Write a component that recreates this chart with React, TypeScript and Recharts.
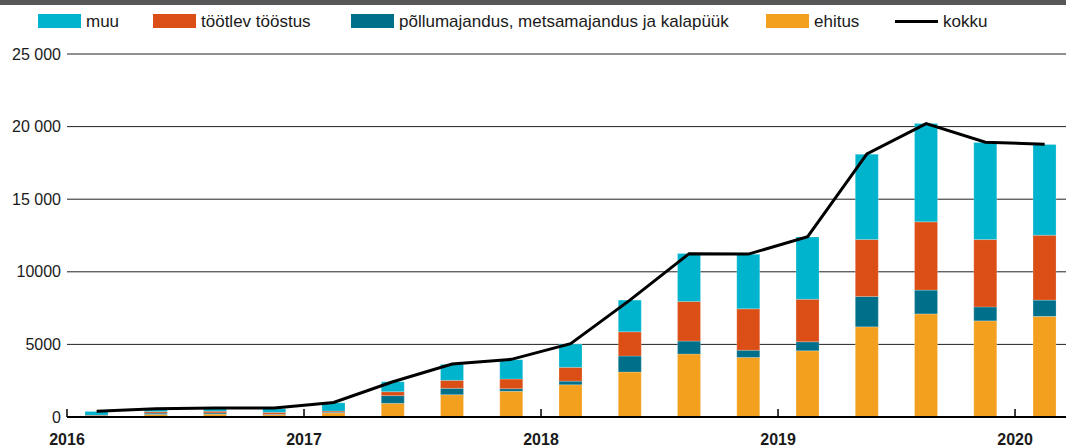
import React from 'react';
import { ComposedChart, Bar, Line, XAxis, YAxis, CartesianGrid, Legend } from 'recharts';

const quarters = [
  '2016 Q1', '2016 Q2', '2016 Q3', '2016 Q4',
  '2017 Q1', '2017 Q2', '2017 Q3', '2017 Q4',
  '2018 Q1', '2018 Q2', '2018 Q3', '2018 Q4',
  '2019 Q1', '2019 Q2', '2019 Q3', '2019 Q4',
  '2020 Q1',
];
const ehitus = [40, 180, 200, 150, 280, 940, 1535, 1770, 2220, 3100, 4335, 4100, 4560, 6210, 7100, 6620, 6930];
const pollumajandus = [20, 90, 80, 40, 50, 530, 440, 180, 250, 1100, 895, 500, 620, 2090, 1640, 960, 1120];
const tootlev = [60, 100, 120, 130, 80, 275, 550, 665, 950, 1670, 2730, 2850, 2930, 3930, 4700, 4640, 4470];
const muu = [260, 150, 160, 250, 570, 685, 1100, 1330, 1600, 2180, 3300, 3760, 4290, 5870, 6770, 6680, 6240];
const kokku = [400, 560, 620, 620, 1000, 2430, 3650, 3970, 5050, 8050, 11250, 11220, 12420, 18120, 20210, 18920, 18790];

const years = [2016, 2017, 2018, 2019, 2020];
const yearLabels = ['2016', '2017', '2018', '2019', '2020'];
const yTicks = [0, 5000, 10000, 15000, 20000, 25000];
const yTickLabels = ['0', '5000', '10000', '15 000', '20 000', '25 000'];

const seriesNames = {
  muu: 'muu',
  tootlev: 'töötlev tööstus',
  pollumajandus: 'põllumajandus, metsamajandus ja kalapüük',
  ehitus: 'ehitus',
  kokku: 'kokku',
};

const COLORS = {
  muu: '#00B4CD',
  tootlev: '#DB4F16',
  pollumajandus: '#006F8A',
  ehitus: '#F4A01F',
  kokku: '#000000',
};

const FONT = '"Liberation Sans", Arial, Helvetica, sans-serif';

function quarterToTime(q: string): number {
  const [y, qq] = q.split(' ');
  const n = parseInt(qq.replace('Q', ''), 10);
  return parseInt(y, 10) + (n - 0.5) / 4;
}

const data = quarters.map((q, i) => ({
  t: quarterToTime(q),
  label: q,
  ehitus: ehitus[i],
  pollumajandus: pollumajandus[i],
  tootlev: tootlev[i],
  muu: muu[i],
  kokku: kokku[i],
}));

const legendItems = [
  { key: 'muu', type: 'rect', x: 38 },
  { key: 'tootlev', type: 'rect', x: 153 },
  { key: 'pollumajandus', type: 'rect', x: 351 },
  { key: 'ehitus', type: 'rect', x: 766 },
  { key: 'kokku', type: 'line', x: 895 },
];

const LegendContent = () => (
  <div style={{ position: 'relative', width: 1066, height: 40, fontFamily: FONT }}>
    {legendItems.map((it) => (
      <div key={it.key} style={{ position: 'absolute', left: it.x, top: 14, height: 14, display: 'flex', alignItems: 'center', whiteSpace: 'nowrap' }}>
        {it.type === 'rect' ? (
          <div style={{ width: 43, height: 14, background: (COLORS as any)[it.key] }} />
        ) : (
          <div style={{ width: 43, height: 3, background: '#000' }} />
        )}
        <span style={{ marginLeft: 5, fontSize: 17, color: '#1a1a1a', lineHeight: '14px', position: 'relative', top: 1 }}>
          {(seriesNames as any)[it.key]}
        </span>
      </div>
    ))}
  </div>
);

const YearTick = (props: any) => {
  const { x, y, payload } = props;
  const idx = years.indexOf(payload.value);
  return (
    <g>
      <line x1={x} x2={x} y1={y - 8} y2={y} stroke="#000" strokeWidth={1.5} />
      <text x={x} y={y + 28} textAnchor="middle" fontFamily={FONT} fontSize={16} fontWeight="bold" fill="#1a1a1a">
        {idx >= 0 ? yearLabels[idx] : ''}
      </text>
    </g>
  );
};

export default function App() {
  return (
    <div style={{ position: 'absolute', left: 0, top: 0, width: 1066, height: 447, background: '#fff', overflow: 'hidden' }}>
      <div style={{ position: 'absolute', left: 0, top: 0, width: 1066, height: 5, background: '#575757' }} />
      <ComposedChart
        width={1066}
        height={447}
        data={data}
        margin={{ top: 54, right: 0, bottom: 0, left: 0 }}
      >
        <CartesianGrid vertical={false} stroke="#222222" strokeWidth={1} />
        <XAxis
          dataKey="t"
          type="number"
          domain={[2016, 2020.215]}
          ticks={years}
          interval={0}
          height={30}
          tickSize={0}
          tickMargin={0}
          tickLine={false}
          axisLine={{ stroke: '#000', strokeWidth: 2 }}
          tick={<YearTick />}
          allowDataOverflow
        />
        <YAxis
          type="number"
          domain={[0, 25000]}
          ticks={yTicks}
          interval={0}
          width={67}
          tickSize={0}
          tickMargin={6}
          tickLine={false}
          axisLine={false}
          tickFormatter={(v: number) => yTickLabels[yTicks.indexOf(v)] ?? String(v)}
          tick={{ fontFamily: FONT, fontSize: 16, fill: '#1a1a1a' }}
        />
        <Legend
          layout="horizontal"
          verticalAlign="middle"
          align="center"
          wrapperStyle={{ top: 0, left: 0, width: 1066, height: 40 }}
          content={<LegendContent />}
        />
        <Bar dataKey="ehitus" stackId="a" fill={COLORS.ehitus} barSize={23} isAnimationActive={false} stroke="#ffffff" strokeOpacity={0.35} strokeWidth={0.6} />
        <Bar dataKey="pollumajandus" stackId="a" fill={COLORS.pollumajandus} barSize={23} isAnimationActive={false} stroke="#ffffff" strokeOpacity={0.35} strokeWidth={0.6} />
        <Bar dataKey="tootlev" stackId="a" fill={COLORS.tootlev} barSize={23} isAnimationActive={false} stroke="#ffffff" strokeOpacity={0.35} strokeWidth={0.6} />
        <Bar dataKey="muu" stackId="a" fill={COLORS.muu} barSize={23} isAnimationActive={false} stroke="#ffffff" strokeOpacity={0.35} strokeWidth={0.6} />
        <Line dataKey="kokku" type="linear" stroke={COLORS.kokku} strokeWidth={3} dot={false} activeDot={false} isAnimationActive={false} />
      </ComposedChart>
    </div>
  );
}
